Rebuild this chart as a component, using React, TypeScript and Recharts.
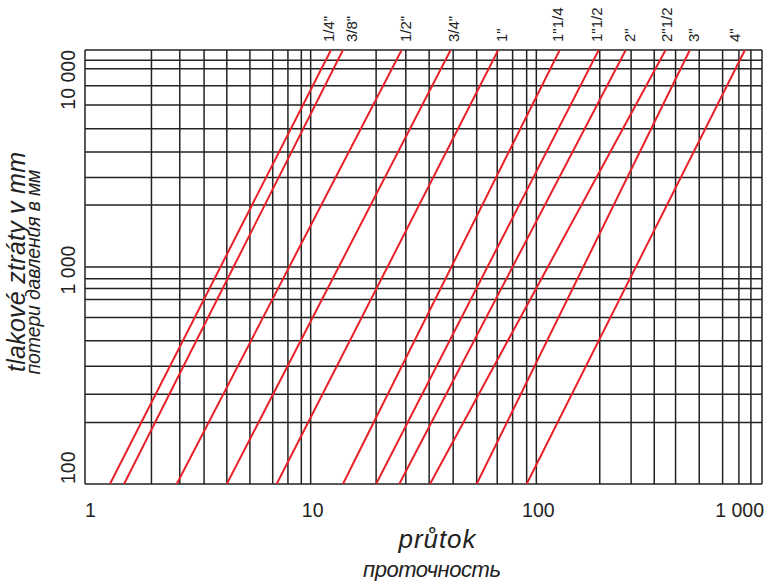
import React from 'react';
import { LineChart, Line, XAxis, YAxis, CartesianGrid } from 'recharts';

// pipe sizes and flow values where each line crosses 100 mm and 10 000 mm
const pipeSizes = ['1/4"', '3/8"', '1/2"', '3/4"', '1"', '1"1/4', '1"1/2', '2"', '2"1/2', '3"', '4"'];
const flowAt100 = [1.29, 1.49, 2.55, 4.25, 7.07, 13.9, 19.5, 24.7, 33.8, 54.4, 90.6];
const flowAt10000 = [12.3, 13.9, 25.3, 41.7, 67.8, 127, 189, 249, 374, 479, 840];
const lossLimits = [100, 10000];

// grid lines as drawn on the original nomogram
const xGridValues = [
  1, 1.97, 2.63, 3.37, 4.25, 5.38, 6.79, 7.93, 9.09,
  10, 19.5, 26.4, 33.5, 42.8, 54.4, 67.1, 78.5, 90.6,
  100, 191, 263, 333, 414, 527, 669, 790, 893, 1000,
];
const yGridValues = [
  100, 192, 259, 349, 457, 585, 709, 796, 882,
  1000, 1929, 2588, 3386, 4337, 5577, 6846, 8202, 8966, 10000,
];
const xLabelValues = [1, 10, 100, 1000];
const yLabelValues = [100, 1000, 10000];

const FONT = '"Liberation Sans", Arial, Helvetica, sans-serif';
const GRID = '#222';
const RED = '#e8202a';

// small sideways nudges for the pipe labels, as in the original
const labelShift = [-2, 9, 4, 3, 4, -2, -2, 4, 1, 4, -10];

const fmt = (v: number) => String(v).replace(/\B(?=(\d{3})+(?!\d))/g, ' ');

const series = pipeSizes.map((name, i) => ({
  name,
  points: [
    { flow: flowAt100[i], loss: lossLimits[0] },
    { flow: flowAt10000[i], loss: lossLimits[1] },
  ],
}));

const renderXTick = (props: any) => {
  const { x, payload, index } = props;
  const v = Number(payload?.value);
  if (!xLabelValues.includes(v)) return <g key={`xt-${index}`} />;
  const first = v === xLabelValues[0];
  const last = v === xLabelValues[xLabelValues.length - 1];
  return (
    <text
      key={`xt-${index}`}
      x={first ? x : x + 2}
      y={517}
      textAnchor={first ? 'start' : last ? 'end' : 'middle'}
      fontFamily={FONT}
      fontSize={19.5}
      fill="#222"
    >
      {fmt(v)}
    </text>
  );
};

const renderYTick = (props: any) => {
  const { y, payload, index } = props;
  const v = Number(payload?.value);
  if (!yLabelValues.includes(v)) return <g key={`yt-${index}`} />;
  const first = v === yLabelValues[0];
  const last = v === yLabelValues[yLabelValues.length - 1];
  const ty = first || last ? y : y + 3;
  return (
    <text
      key={`yt-${index}`}
      x={75}
      y={ty}
      transform={`rotate(-90, 75, ${ty})`}
      textAnchor={first ? 'start' : last ? 'end' : 'middle'}
      fontFamily={FONT}
      fontSize={19.5}
      fill="#222"
    >
      {fmt(v)}
    </text>
  );
};

const pipeLabel = (i: number) => (props: any) => {
  const { x, y, index } = props;
  if (index !== 1) return null;
  const cx = x + labelShift[i];
  const by = y - 8;
  return (
    <text
      key={`pl-${i}`}
      x={cx}
      y={by}
      dy="0.35em"
      transform={`rotate(-90, ${cx}, ${by})`}
      textAnchor="start"
      fontFamily={FONT}
      fontSize={15}
      fill="#222"
    >
      {pipeSizes[i]}
    </text>
  );
};

export default function App() {
  return (
    <div style={{ position: 'absolute', left: 0, top: 0, width: 765, height: 581, background: '#fff' }}>
      <LineChart width={765} height={581} margin={{ top: 50, right: 3, bottom: 57, left: 45 }}>
        <CartesianGrid stroke={GRID} strokeWidth={1.5} />
        <XAxis
          dataKey="flow"
          type="number"
          scale="log"
          domain={[1, 1000]}
          ticks={xGridValues}
          interval={0}
          allowDataOverflow
          axisLine={false}
          tickLine={false}
          height={40}
          tick={renderXTick}
        />
        <YAxis
          dataKey="loss"
          type="number"
          scale="log"
          domain={[100, 10000]}
          ticks={yGridValues}
          interval={0}
          allowDataOverflow
          axisLine={false}
          tickLine={false}
          width={40}
          tick={renderYTick}
        />
        {series.map((s, i) => (
          <Line
            key={s.name}
            data={s.points}
            dataKey="loss"
            name={s.name}
            stroke={RED}
            strokeWidth={2}
            dot={false}
            activeDot={false}
            isAnimationActive={false}
            label={pipeLabel(i)}
          />
        ))}
      </LineChart>
      <svg width={765} height={581} style={{ position: 'absolute', left: 0, top: 0, pointerEvents: 'none' }}>
        <g fontFamily={FONT} fontStyle="italic" fill="#222">
          <text x={25} y={262} transform="rotate(-90, 25, 262)" textAnchor="middle" fontSize={25} textLength={220}>
            tlakové ztráty v mm
          </text>
          <text x={40} y={272} transform="rotate(-90, 40, 272)" textAnchor="middle" fontSize={19.5} textLength={205}>
            потери давления в мм
          </text>
          <text x={437} y={548} textAnchor="middle" fontSize={26} textLength={77}>
            průtok
          </text>
          <text x={432} y={577} textAnchor="middle" fontSize={22} textLength={138}>
            проточность
          </text>
        </g>
      </svg>
    </div>
  );
}
